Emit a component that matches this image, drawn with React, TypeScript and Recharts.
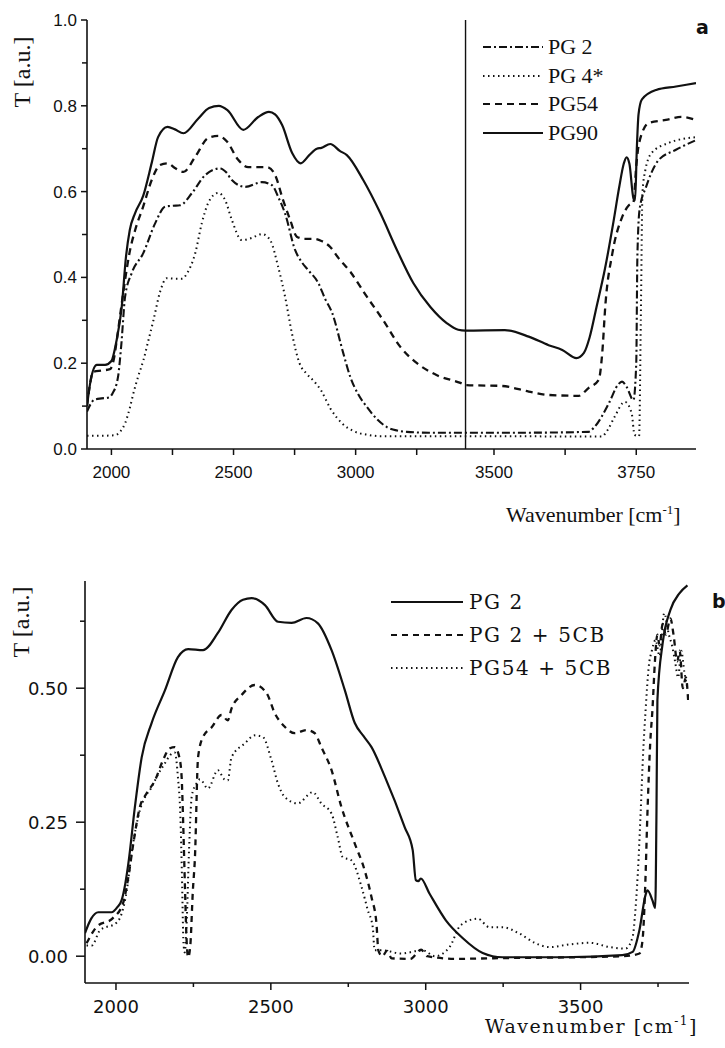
import { LineChart, Line, XAxis, YAxis, ReferenceLine } from "recharts";

type Pt = [number, number];

// ---- panel a: transmission vs wavenumber (cm-1)
const pg2A: Pt[] = [
  [1900, 0.087], [1915, 0.105], [1930, 0.115], [1960, 0.118], [1990, 0.12], [2005, 0.13],
  [2027, 0.168], [2040, 0.24], [2056, 0.355], [2083, 0.41], [2130, 0.456], [2179, 0.526],
  [2220, 0.565], [2250, 0.567], [2281, 0.568], [2329, 0.596], [2383, 0.638], [2445, 0.654],
  [2470, 0.645], [2493, 0.627], [2548, 0.611], [2616, 0.622], [2657, 0.615], [2685, 0.585],
  [2711, 0.549], [2752, 0.464], [2780, 0.435], [2806, 0.417], [2847, 0.387], [2875, 0.35],
  [2904, 0.317], [2949, 0.224], [2978, 0.168], [3010, 0.128], [3046, 0.098], [3090, 0.068],
  [3128, 0.051], [3170, 0.043], [3210, 0.04], [3300, 0.038], [3450, 0.038], [3550, 0.038],
  [3666, 0.04], [3677, 0.052], [3702, 0.107], [3718, 0.15], [3725, 0.157], [3733, 0.145],
  [3745, 0.114], [3750, 0.2], [3752, 0.45], [3756, 0.56], [3767, 0.61], [3789, 0.673],
  [3819, 0.697], [3855, 0.72],
];
const pg4A: Pt[] = [
  [1900, 0.031], [1960, 0.031], [2015, 0.032], [2035, 0.04], [2056, 0.06], [2075, 0.095],
  [2090, 0.13], [2110, 0.17], [2131, 0.207], [2150, 0.25], [2172, 0.3], [2199, 0.366],
  [2226, 0.398], [2260, 0.397], [2290, 0.397], [2310, 0.41], [2343, 0.456], [2370, 0.526],
  [2396, 0.573], [2437, 0.597], [2466, 0.58], [2493, 0.534], [2534, 0.487], [2575, 0.492],
  [2616, 0.501], [2650, 0.487], [2683, 0.424], [2711, 0.355], [2739, 0.27], [2770, 0.2],
  [2800, 0.175], [2834, 0.155], [2860, 0.135], [2896, 0.095], [2944, 0.06], [2990, 0.042],
  [3050, 0.033], [3101, 0.03], [3450, 0.03], [3689, 0.029], [3700, 0.045], [3712, 0.075],
  [3730, 0.11], [3742, 0.083], [3747, 0.033], [3755, 0.03], [3758, 0.3], [3761, 0.6],
  [3766, 0.65], [3777, 0.69], [3806, 0.713], [3855, 0.727],
];
const pg54A: Pt[] = [
  [1900, 0.1], [1912, 0.15], [1925, 0.18], [1960, 0.183], [1994, 0.186], [2010, 0.21],
  [2022, 0.254], [2040, 0.33], [2056, 0.394], [2075, 0.46], [2097, 0.51], [2130, 0.565],
  [2165, 0.627], [2199, 0.662], [2230, 0.666], [2260, 0.655], [2295, 0.646], [2343, 0.681],
  [2396, 0.725], [2437, 0.73], [2474, 0.716], [2519, 0.674], [2560, 0.657], [2638, 0.657],
  [2670, 0.639], [2703, 0.58], [2732, 0.534], [2759, 0.495], [2790, 0.49], [2826, 0.49],
  [2860, 0.485], [2896, 0.471], [2930, 0.445], [2978, 0.413], [3046, 0.355], [3113, 0.3],
  [3183, 0.238], [3251, 0.2], [3333, 0.172], [3429, 0.154], [3450, 0.149], [3513, 0.147],
  [3561, 0.134], [3596, 0.126], [3649, 0.124], [3666, 0.142], [3684, 0.161], [3690, 0.22],
  [3696, 0.34], [3708, 0.456], [3725, 0.54], [3737, 0.568], [3745, 0.575], [3750, 0.66],
  [3755, 0.713], [3772, 0.76], [3802, 0.767], [3829, 0.774], [3855, 0.767],
];
const pg90A: Pt[] = [
  [1900, 0.1], [1915, 0.16], [1940, 0.196], [1974, 0.196], [2000, 0.205], [2020, 0.25],
  [2042, 0.33], [2060, 0.45], [2075, 0.51], [2097, 0.55], [2130, 0.59], [2165, 0.667],
  [2191, 0.727], [2230, 0.751], [2260, 0.745], [2295, 0.736], [2355, 0.77], [2400, 0.795],
  [2440, 0.8], [2475, 0.79], [2540, 0.744], [2601, 0.774], [2645, 0.786], [2670, 0.78],
  [2699, 0.755], [2740, 0.69], [2775, 0.666], [2810, 0.685], [2841, 0.7], [2860, 0.702],
  [2896, 0.711], [2935, 0.695], [2964, 0.685], [3031, 0.627], [3101, 0.55], [3169, 0.464],
  [3236, 0.387], [3306, 0.331], [3374, 0.293], [3420, 0.278], [3450, 0.276], [3519, 0.277],
  [3561, 0.262], [3596, 0.242], [3620, 0.231], [3645, 0.212], [3658, 0.224], [3668, 0.26],
  [3680, 0.33], [3695, 0.42], [3710, 0.53], [3720, 0.61], [3728, 0.665], [3733, 0.68],
  [3738, 0.665], [3745, 0.585], [3748, 0.58], [3751, 0.7], [3754, 0.78], [3760, 0.815],
  [3785, 0.837], [3820, 0.845], [3855, 0.853],
];

// ---- panel b
const pg2B: Pt[] = [
  [1900, 0.043], [1920, 0.07], [1943, 0.082], [1986, 0.082], [2005, 0.092], [2018, 0.104],
  [2030, 0.135], [2040, 0.173], [2061, 0.278], [2083, 0.371], [2115, 0.435], [2158, 0.496],
  [2200, 0.558], [2233, 0.573], [2281, 0.571], [2329, 0.603], [2373, 0.646], [2410, 0.665],
  [2438, 0.668], [2481, 0.655], [2523, 0.624], [2567, 0.622], [2615, 0.631], [2652, 0.621],
  [2696, 0.571], [2739, 0.496], [2771, 0.435], [2800, 0.41], [2825, 0.39], [2868, 0.335],
  [2932, 0.241], [2958, 0.198], [2968, 0.142], [2976, 0.14], [2984, 0.145], [3012, 0.117],
  [3065, 0.067], [3119, 0.034], [3184, 0.006], [3248, -0.002], [3442, -0.002], [3635, 0.002],
  [3668, 0.008], [3690, 0.049], [3710, 0.115], [3716, 0.123], [3732, 0.104], [3741, 0.09],
  [3745, 0.27], [3748, 0.478], [3765, 0.584], [3790, 0.646], [3819, 0.677], [3845, 0.692],
];
const pg2CbB: Pt[] = [
  [1905, 0.024], [1938, 0.055], [1990, 0.071], [2023, 0.099], [2040, 0.148], [2056, 0.21],
  [2077, 0.278], [2099, 0.304], [2126, 0.328], [2152, 0.366], [2174, 0.388], [2190, 0.39],
  [2205, 0.37], [2212, 0.334], [2217, 0.248], [2223, 0.123], [2228, 0.03], [2233, -0.002],
  [2240, 0.02], [2248, 0.12], [2255, 0.185], [2265, 0.371], [2281, 0.409], [2309, 0.427],
  [2341, 0.45], [2361, 0.44], [2373, 0.462], [2405, 0.487], [2448, 0.506], [2486, 0.491],
  [2513, 0.453], [2545, 0.428], [2577, 0.416], [2615, 0.422], [2642, 0.416], [2663, 0.39],
  [2696, 0.347], [2728, 0.278], [2771, 0.21], [2803, 0.16], [2825, 0.11], [2841, 0.061],
  [2847, 0.011], [2860, 0.0], [2875, 0.01], [2890, -0.004], [2950, -0.005], [2985, 0.012],
  [3005, 0.0], [3100, -0.005], [3200, -0.004], [3640, 0.0], [3690, 0.005], [3700, 0.03],
  [3708, 0.12], [3716, 0.27], [3725, 0.4], [3732, 0.46], [3740, 0.55], [3748, 0.6],
  [3755, 0.58], [3765, 0.62], [3775, 0.6], [3790, 0.63], [3800, 0.6], [3812, 0.55],
  [3820, 0.57], [3830, 0.5], [3840, 0.52], [3848, 0.47],
];
const pg54CbB: Pt[] = [
  [1905, 0.02], [1922, 0.02], [1948, 0.048], [2003, 0.063], [2035, 0.123], [2050, 0.19],
  [2077, 0.272], [2094, 0.297], [2115, 0.315], [2131, 0.334], [2158, 0.36], [2180, 0.378],
  [2190, 0.38], [2200, 0.334], [2208, 0.26], [2213, 0.15], [2218, 0.024], [2222, 0.007],
  [2228, 0.06], [2236, 0.2], [2245, 0.3], [2260, 0.322], [2271, 0.33], [2297, 0.313],
  [2329, 0.347], [2350, 0.33], [2361, 0.328], [2373, 0.371], [2416, 0.397], [2448, 0.412],
  [2474, 0.409], [2502, 0.366], [2523, 0.322], [2545, 0.297], [2587, 0.285], [2635, 0.306],
  [2663, 0.285], [2696, 0.266], [2716, 0.222], [2732, 0.185], [2760, 0.179], [2793, 0.129],
  [2813, 0.086], [2829, 0.054], [2835, 0.011], [2861, 0.011], [2920, 0.005], [2990, 0.011],
  [3030, 0.0], [3077, 0.017], [3113, 0.058], [3168, 0.07], [3206, 0.054], [3248, 0.054],
  [3303, 0.042], [3355, 0.024], [3400, 0.017], [3465, 0.022], [3529, 0.025], [3594, 0.017],
  [3645, 0.014], [3668, 0.036], [3677, 0.086], [3687, 0.18], [3694, 0.27], [3702, 0.38],
  [3710, 0.46], [3720, 0.54], [3730, 0.57], [3742, 0.59], [3755, 0.56], [3770, 0.64],
  [3785, 0.6], [3795, 0.58], [3805, 0.55], [3815, 0.52], [3825, 0.57], [3835, 0.53],
  [3845, 0.5],
];

const xMajorA = [2000, 2500, 3000, 3500, 3750];
const xMinorA = [2250, 2750, 3250, 3625];
const yTicksA = [0, 0.1, 0.2, 0.3, 0.4, 0.5, 0.6, 0.7, 0.8, 0.9, 1.0];
const xMajorB = [2000, 2500, 3000, 3500];
const xMinorB = [2250, 2750, 3250, 3750];
const yTicksB = [0, 0.125, 0.25, 0.375, 0.5, 0.625];

// panel a has a broken axis: above the break the wavenumber scale is stretched
const BREAK = 3450;
const STRETCH = 2.33;
const warp = (w: number) => (w <= BREAK ? w : BREAK + (w - BREAK) * STRETCH);
const unwarp = (u: number) => (u <= BREAK ? u : BREAK + (u - BREAK) / STRETCH);

const toA = (pts: Pt[]) => pts.map(([w, t]) => ({ u: warp(w), t }));
const toB = (pts: Pt[]) => pts.map(([w, t]) => ({ w, t }));

const INK = "#111";
const DASHDOT = "8 3 2 3";
const DOTTED = "1.5 3.5";
const DASHED = "7 5";
const DASHED_B = "6 5";

const sansA = "'Liberation Sans', Arial, sans-serif";
const sansB = "'DejaVu Sans', sans-serif";
const serif = "'Liberation Serif', 'Times New Roman', serif";
const serifB = "'DejaVu Serif', serif";

function XTickA(props: any) {
  const { x, y, payload } = props;
  const w = Math.round(unwarp(payload.value));
  const major = xMajorA.includes(w);
  return (
    <g>
      <line x1={x} y1={y} x2={x} y2={y + 6} stroke={INK} strokeWidth={1.5} />
      {major && (
        <text x={x} y={y + 29} textAnchor="middle" fontFamily={sansA} fontSize={17} fill={INK}>
          {w}
        </text>
      )}
    </g>
  );
}

function YTickA(props: any) {
  const { x, y, payload } = props;
  const v = payload.value;
  const major = Math.round(v * 10) % 2 === 0;
  return (
    <g>
      <line x1={x - (major ? 6 : 5)} y1={y} x2={x} y2={y} stroke={INK} strokeWidth={1.5} />
      {major && (
        <text x={x - 10} y={y + 6} textAnchor="end" fontFamily={sansA} fontSize={17} fill={INK}>
          {v.toFixed(1)}
        </text>
      )}
    </g>
  );
}

function XTickB(props: any) {
  const { x, y, payload } = props;
  const major = xMajorB.includes(payload.value);
  return (
    <g>
      <line x1={x} y1={y} x2={x} y2={y + (major ? 7 : 4)} stroke={INK} strokeWidth={1.5} />
      {major && (
        <text x={x} y={y + 30} textAnchor="middle" fontFamily={sansB} fontSize={18} fill={INK}>
          {payload.value}
        </text>
      )}
    </g>
  );
}

function YTickB(props: any) {
  const { x, y, payload } = props;
  const v = payload.value;
  const major = Math.round(v * 8) % 2 === 0;
  return (
    <g>
      <line x1={x - (major ? 9 : 5)} y1={y} x2={x} y2={y} stroke={INK} strokeWidth={1.5} />
      {major && (
        <text x={x - 17} y={y + 6.5} textAnchor="end" fontFamily={sansB} fontSize={18} fill={INK}>
          {v.toFixed(2)}
        </text>
      )}
    </g>
  );
}

function Sample({ dash, width }: { dash?: string; width: number }) {
  return (
    <svg width={width} height={10} style={{ display: "block", marginRight: 6 }}>
      <line x1={0} y1={5} x2={width} y2={5} stroke={INK} strokeWidth={2} strokeDasharray={dash} />
    </svg>
  );
}

const legendA = [
  { name: "PG 2", dash: DASHDOT },
  { name: "PG 4*", dash: DOTTED },
  { name: "PG54", dash: DASHED },
  { name: "PG90", dash: undefined },
];
const legendB = [
  { name: "PG 2", dash: undefined },
  { name: "PG 2 + 5CB", dash: DASHED_B },
  { name: "PG54 + 5CB", dash: DOTTED },
];

const axisLine = { stroke: INK, strokeWidth: 1.6 };
const sup = (size: number, lift: number) => ({ position: "relative" as const, top: -lift, fontSize: size, lineHeight: 0 });

export default function App() {
  const xTicksA = [...xMajorA, ...xMinorA].map(warp).sort((a, b) => a - b);
  const xTicksB = [...xMajorB, ...xMinorB].sort((a, b) => a - b);

  return (
    <div style={{ position: "absolute", left: 0, top: 0, width: 725, height: 1048, background: "#fff", overflow: "hidden" }}>
      {/* panel a */}
      <div style={{ position: "absolute", left: 0, top: 0 }}>
        <LineChart width={725} height={540} margin={{ top: 20, right: 29, left: 0, bottom: 51 }}>
          <XAxis
            type="number"
            dataKey="u"
            domain={[1900, warp(3855)]}
            ticks={xTicksA}
            interval={0}
            tick={XTickA}
            tickLine={false}
            tickSize={0}
            tickMargin={0}
            axisLine={axisLine}
            height={40}
            allowDataOverflow
          />
          <YAxis
            type="number"
            domain={[0, 1]}
            ticks={yTicksA}
            interval={0}
            tick={YTickA}
            tickLine={false}
            tickSize={0}
            tickMargin={0}
            axisLine={axisLine}
            width={87}
            allowDataOverflow
          />
          <ReferenceLine x={BREAK} stroke={INK} strokeWidth={1.4} />
          <Line data={toA(pg2A)} dataKey="t" type="monotone" stroke={INK} strokeWidth={2.1} strokeDasharray={DASHDOT} dot={false} isAnimationActive={false} />
          <Line data={toA(pg4A)} dataKey="t" type="monotone" stroke={INK} strokeWidth={2} strokeDasharray={DOTTED} dot={false} isAnimationActive={false} />
          <Line data={toA(pg54A)} dataKey="t" type="monotone" stroke={INK} strokeWidth={2.3} strokeDasharray={DASHED} dot={false} isAnimationActive={false} />
          <Line data={toA(pg90A)} dataKey="t" type="monotone" stroke={INK} strokeWidth={2.2} dot={false} isAnimationActive={false} />
        </LineChart>
      </div>

      {/* panel b */}
      <div style={{ position: "absolute", left: 0, top: 560 }}>
        <LineChart width={725} height={480} margin={{ top: 21, right: 36, left: 0, bottom: 17 }}>
          <XAxis
            type="number"
            dataKey="w"
            domain={[1900, 3850]}
            ticks={xTicksB}
            interval={0}
            tick={XTickB}
            tickLine={false}
            tickSize={0}
            tickMargin={0}
            axisLine={axisLine}
            height={40}
            allowDataOverflow
          />
          <YAxis
            type="number"
            domain={[-0.05, 0.7]}
            ticks={yTicksB}
            interval={0}
            tick={YTickB}
            tickLine={false}
            tickSize={0}
            tickMargin={0}
            axisLine={axisLine}
            width={85}
            allowDataOverflow
          />
          <Line data={toB(pg2B)} dataKey="t" type="monotone" stroke={INK} strokeWidth={2.2} dot={false} isAnimationActive={false} />
          <Line data={toB(pg2CbB)} dataKey="t" type="monotone" stroke={INK} strokeWidth={2.3} strokeDasharray={DASHED_B} dot={false} isAnimationActive={false} />
          <Line data={toB(pg54CbB)} dataKey="t" type="monotone" stroke={INK} strokeWidth={2} strokeDasharray={DOTTED} dot={false} isAnimationActive={false} />
        </LineChart>
      </div>

      {/* legend a */}
      <div style={{ position: "absolute", left: 483, top: 33 }}>
        {legendA.map((d) => (
          <div key={d.name} style={{ display: "flex", alignItems: "center", height: 28.5 }}>
            <Sample dash={d.dash} width={60} />
            <span style={{ fontFamily: serif, fontSize: 22, color: INK, lineHeight: "22px", marginLeft: -1 }}>{d.name}</span>
          </div>
        ))}
      </div>

      {/* legend b */}
      <div style={{ position: "absolute", left: 391, top: 585 }}>
        {legendB.map((d) => (
          <div key={d.name} style={{ display: "flex", alignItems: "center", height: 33 }}>
            <Sample dash={d.dash} width={72} />
            <span style={{ fontFamily: serifB, fontSize: 20, letterSpacing: 1.6, color: INK, lineHeight: "20px" }}>{d.name}</span>
          </div>
        ))}
      </div>

      {/* axis titles and panel letters */}
      <div style={{ position: "absolute", left: 22, top: 72, transform: "translate(-50%, -50%) rotate(-90deg)", whiteSpace: "nowrap", fontFamily: serif, fontSize: 24, color: INK }}>
        T [a.u.]
      </div>
      <div style={{ position: "absolute", left: 506, top: 504, whiteSpace: "nowrap", fontFamily: serif, fontSize: 22, lineHeight: "22px", color: INK }}>
        Wavenumber [cm<span style={sup(13, 8)}>-1</span>]
      </div>
      <div style={{ position: "absolute", left: 696, top: 16, fontFamily: sansB, fontWeight: "bold", fontSize: 19, color: INK }}>a</div>

      <div style={{ position: "absolute", left: 21, top: 622, transform: "translate(-50%, -50%) rotate(-90deg)", whiteSpace: "nowrap", fontFamily: serif, fontSize: 24, color: INK }}>
        T [a.u.]
      </div>
      <div style={{ position: "absolute", left: 485, top: 1017, whiteSpace: "nowrap", fontFamily: serifB, fontSize: 19, lineHeight: "19px", letterSpacing: 1.5, color: INK }}>
        Wavenumber [cm<span style={sup(12, 8)}>-1</span>]
      </div>
      <div style={{ position: "absolute", left: 712, top: 590, fontFamily: sansB, fontWeight: "bold", fontSize: 19, color: INK }}>b</div>
    </div>
  );
}
